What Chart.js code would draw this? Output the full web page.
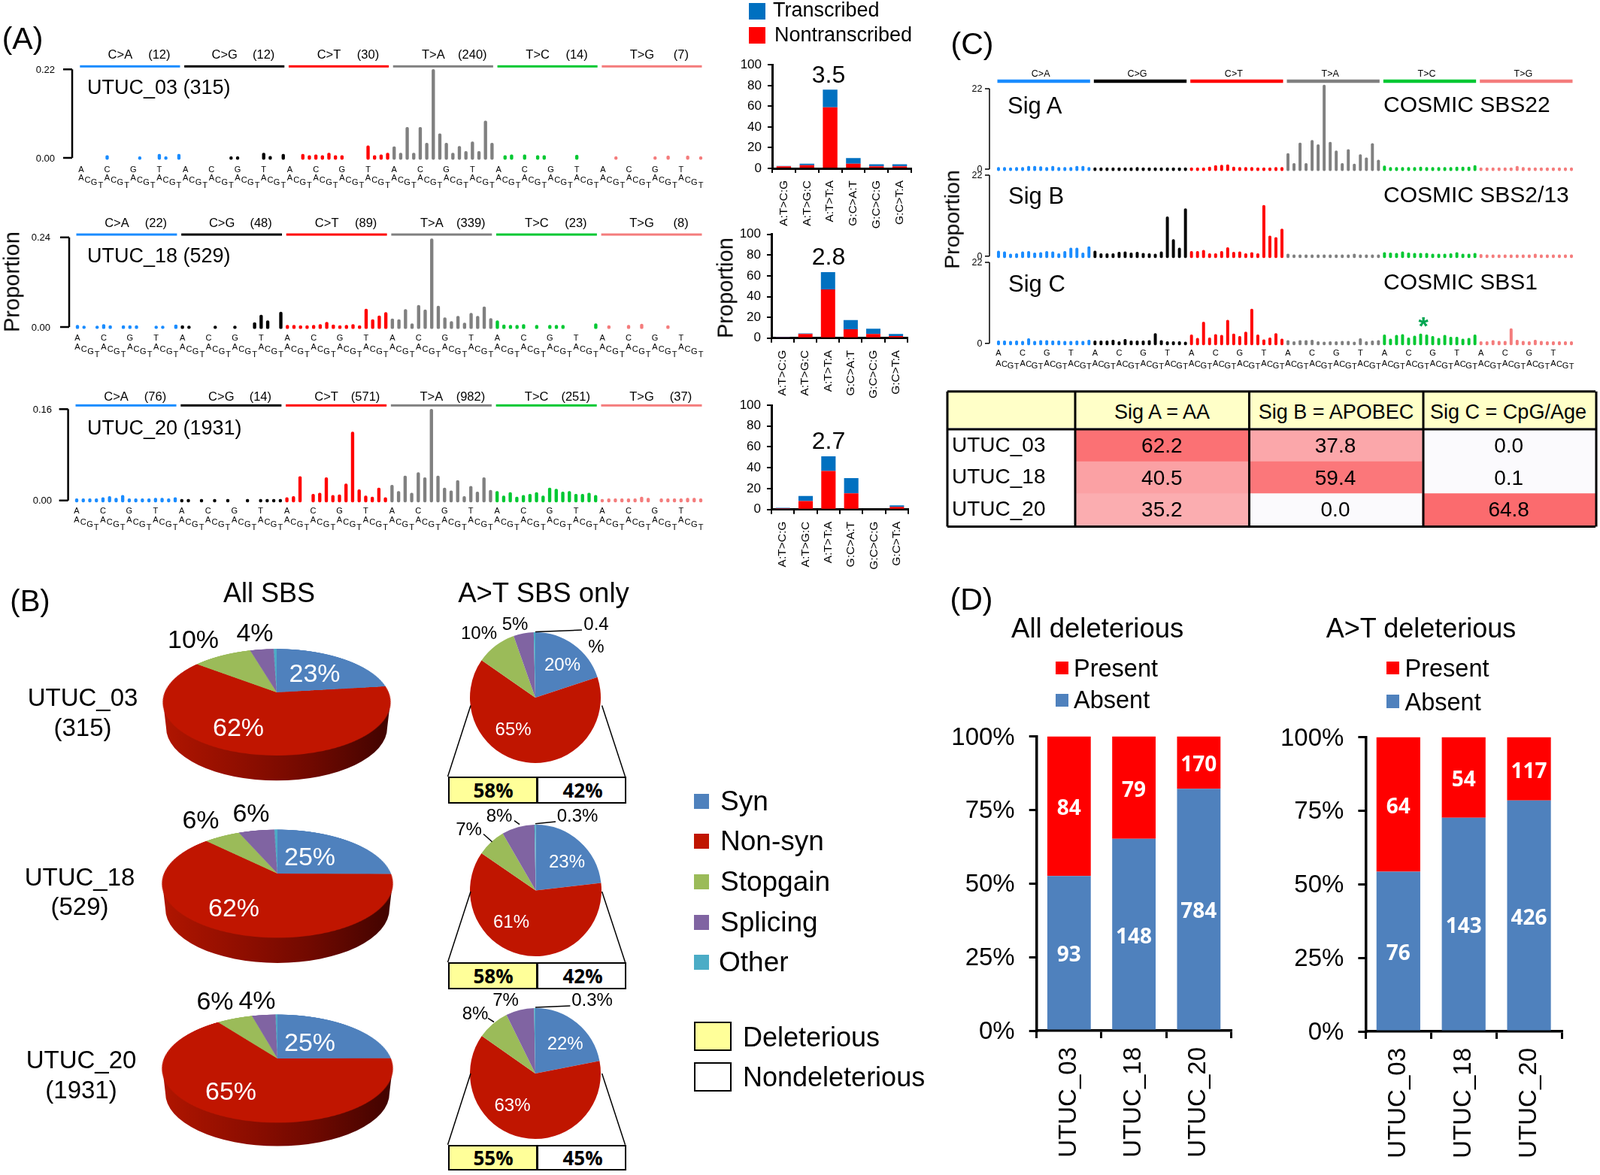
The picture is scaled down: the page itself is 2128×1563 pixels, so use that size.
<!DOCTYPE html>
<html>
<head>
<meta charset="utf-8">
<title>UTUC mutation signatures</title>
<script src="https://cdn.jsdelivr.net/npm/chart.js@4"></script>
<style>
  html, body { margin: 0; padding: 0; background: #fff; }
  #page { position: relative; width: 2128px; height: 1563px; overflow: hidden; background: #fff; font-family: "Liberation Sans", Arial, sans-serif; color: #000; }
  #page canvas { position: absolute; }
  .t { position: absolute; white-space: nowrap; line-height: 1; }
  .box { position: absolute; box-sizing: border-box; }
  svg { position: absolute; left: 0; top: 0; }
</style>
</head>
<body>
<div id="page"></div>
<script>
// --- data: panel A spectra (96 trinucleotide channels, 16 per substitution, null = no bar) ---
const substitutions = ['C>A', 'C>G', 'C>T', 'T>A', 'T>C', 'T>G'];
const substitutionColors = ['#1a8cff', '#000000', '#ff0000', '#808080', '#00c832', '#f47c7c'];
const bases = ['A', 'C', 'G', 'T'];

const utuc03Counts = [12, 12, 30, 240, 14, 7];
const utuc18Counts = [22, 48, 89, 339, 23, 8];
const utuc20Counts = [76, 14, 571, 982, 251, 37];

const utuc03Spectrum = [
  null, null, null, null, .006, null, null, null, null, .003, null, null, .009, .003, null, .009,
  null, null, null, null, null, null, null, .003, .003, null, null, null, .012, .004, null, .009,
  null, null, .009, .006, .008, .006, .012, .006, .006, null, null, null, .03, .006, .008, .012,
  .028, .012, .076, .012, .076, .037, .22, .06, .037, .012, .029, .016, .04, .016, .092, .037,
  null, .006, .008, null, .008, null, .006, .006, null, null, null, null, .007, null, null, null,
  null, null, .003, null, null, null, null, null, .003, null, .005, null, null, .005, null, .003
];
const utuc18Spectrum = [
  .005, .003, null, .003, .007, .004, null, .004, .004, .004, null, null, .003, .003, null, .006,
  .004, .003, null, null, null, .003, null, null, .003, null, null, .012, .032, .017, null, .04,
  .005, .005, .004, .004, .005, .007, .013, .006, .004, .005, .007, .004, .048, .02, .03, .039,
  .022, .02, .047, .009, .058, .046, .236, .056, .025, .015, .029, .011, .037, .029, .054, .023,
  .017, .006, .005, .005, .007, null, .005, null, .005, .005, .005, null, null, null, null, .009,
  null, .004, null, null, .005, null, .008, null, null, null, .004, null, null, null, null, null
];
const utuc20Spectrum = [
  .003, .003, .003, .003, .005, .007, .004, .009, .003, .003, .003, .003, .004, .004, .003, .005,
  .002, .002, null, .002, null, .002, null, .002, null, null, .002, null, .002, .002, .002, .002,
  .005, .007, .042, null, .011, .013, .04, .009, .01, .029, .12, .019, .008, .006, .022, .005,
  .027, .016, .043, .013, .049, .04, .16, .043, .022, .017, .035, .007, .025, .015, .04, .018,
  .016, .008, .014, .006, .009, .011, .014, .008, .022, .02, .015, .016, .011, .011, .013, .009,
  .002, .003, .003, .003, .003, .003, .006, .004, null, .003, .003, .003, .003, .004, .004, .003
];

// --- data: panel A transcribed / nontranscribed ---
const strandClasses = ['A:T>C:G', 'A:T>G:C', 'A:T>T:A', 'G:C>A:T', 'G:C>C:G', 'G:C>T:A'];
const utuc03Nontranscribed = [2, 3, 59, 4.5, 2, 2];
const utuc03Transcribed = [.4, 1.5, 17, 5.5, 2, 2];
const utuc18Nontranscribed = [1, 4, 47, 8.5, 4, 2];
const utuc18Transcribed = [.3, .5, 16.5, 9, 5, 2];
const utuc20Nontranscribed = [1, 8, 37, 15.5, 0, 2.5];
const utuc20Transcribed = [.5, 5, 14, 14.5, 0, 1.5];
const strandRatios = ['3.5', '2.8', '2.7'];

// --- data: panel C signatures ---
const sigASpectrum = [
  .5, .5, .4, .5, .5, .8, .8, .7, .5, .8, .5, .5, .5, .8, .8, .5,
  .4, .4, .4, .4, .4, .4, .4, .5, .4, .4, .4, .4, .4, .4, .4, .4,
  .4, .4, .4, .6, 1, 1.1, 1.2, .6, .5, .5, .5, .4, .4, .4, .5, .5,
  4.3, 1.6, 7.2, 1.6, 7.9, 6.7, 23, 7.4, 5, 1.6, 5.4, 1.4, 4, 3.1, 7, 2.5,
  .9, .5, .5, .5, .5, .5, .6, .5, .5, .5, .5, .5, .6, .6, .6, 1,
  .4, .4, .4, .4, .4, .4, .8, .5, .4, .4, .4, .4, .4, .4, .4, .4
];
const sigBSpectrum = [
  1.4, 1.2, .6, .7, 1.2, 1.3, .9, 1, 1.3, 1.2, .7, 1.3, 2.2, 2.2, .9, 2.6,
  1.4, .7, .7, .7, 1.1, 1.2, .9, 1.1, .8, .7, .6, 1.2, 10.7, 4.5, 2.2, 12.9,
  1.3, 1.3, 1.6, .7, .7, 1.3, 2.3, 1.1, 1.2, .7, 1, .7, 13.8, 5.5, 5.1, 7.4,
  .6, .4, .4, .4, .4, .4, .4, .4, .4, .4, .4, .6, .4, .4, .4, .4,
  1, .9, .8, 1.2, .9, .8, .8, .8, .6, .6, .6, .7, 1, .6, .6, .8,
  .5, .4, .4, .4, .4, .4, .4, .4, .4, .6, .4, .4, .4, .4, .4, .4
];
const sigCSpectrum = [
  .7, .7, .6, .7, .6, 1.3, .6, .8, .8, .7, .7, .6, .6, .7, .6, .9,
  .7, .7, .7, .9, .5, 1.1, .7, .7, .7, .8, 2.7, .8, .5, .5, .5, .4,
  2.3, 1.4, 5.8, 1.5, 2.4, 2.2, 6.3, 2.6, 1.9, 3.1, 9.3, 2.3, 1, 1.5, 2.7, 1.2,
  .8, .5, .8, .8, .9, .5, .4, .5, .5, .6, .6, .4, 1.3, .5, .7, .8,
  2.3, 1.2, 2.2, 2.4, 1.5, 2, 2.6, 2.3, 1.9, 1.4, 2.2, 1.7, 1.7, 1.2, 1.4, 2.3,
  .5, .5, .8, .6, .6, 4, .9, .6, .5, .9, .6, .5, .5, .5, .5, .5
];
const tableSamples = ['UTUC_03', 'UTUC_18', 'UTUC_20'];
const tableHeaders = ['Sig A = AA', 'Sig B = APOBEC', 'Sig C = CpG/Age'];
const sigAShare = [62.2, 40.5, 35.2];
const sigBShare = [37.8, 59.4, 0.0];
const sigCShare = [0.0, 0.1, 64.8];

// --- data: panel B consequences ---
const consequences = ['Syn', 'Non-syn', 'Stopgain', 'Splicing', 'Other'];
const consequenceColors = ['#4f81bd', '#c01500', '#9bbb59', '#8064a2', '#4bacc6'];
const allSbs03 = [23, 62, 10, 4, .5];
const allSbs18 = [25, 62, 6, 6, .5];
const allSbs20 = [25, 65, 6, 4, .3];
const atSbs03 = [20, 65, 10, 5, .4];
const atSbs18 = [23, 61, 7, 8, .3];
const atSbs20 = [22, 63, 8, 7, .3];

// --- data: panel D deleterious genes ---
const samples = ['UTUC_03', 'UTUC_18', 'UTUC_20'];
const allAbsent = [93, 148, 784];
const allPresent = [84, 79, 170];
const atAbsent = [76, 143, 426];
const atPresent = [64, 54, 117];

const FONT = '"Liberation Sans", Arial, sans-serif';
const page = document.getElementById('page');
Chart.defaults.animation = false;
Chart.defaults.responsive = false;
Chart.defaults.color = '#000';
Chart.defaults.font.family = FONT;
Chart.defaults.plugins.legend.display = false;
Chart.defaults.plugins.tooltip.enabled = false;

// canvas around a plot box given in page pixels, with room for axes and labels
function plotCanvas(left, top, right, bottom, m) {
  const cx = Math.floor(left - m.l), cy = Math.floor(top - m.t);
  const w = Math.ceil(right + m.r - cx), h = Math.ceil(bottom + m.b - cy);
  const canvas = document.createElement('canvas');
  canvas.width = w;
  canvas.height = h;
  canvas.style.left = cx + 'px';
  canvas.style.top = cy + 'px';
  page.appendChild(canvas);
  return {
    canvas,
    leftWidth: left - cx,
    bottomHeight: h - (bottom - cy),
    padding: { left: 0, top: top - cy, right: w - (right - cx), bottom: h - (bottom - cy) }
  };
}

function label(str, x, y, size, o = {}) {
  const d = document.createElement('div');
  d.className = 't';
  d.textContent = str;
  d.style.left = x + 'px';
  d.style.top = y + 'px';
  d.style.fontSize = size + 'px';
  if (o.color) d.style.color = o.color;
  if (o.bold) d.style.fontWeight = 'bold';
  if (o.family) d.style.fontFamily = o.family;
  let tr = o.left ? 'translate(0,-50%)' : 'translate(-50%,-50%)';
  if (o.rot) tr += ' rotate(' + o.rot + 'deg)';
  d.style.transform = tr;
  page.appendChild(d);
}

function box(x, y, w, h, bg, border) {
  const d = document.createElement('div');
  d.className = 'box';
  d.style.cssText = `left:${x}px;top:${y}px;width:${w}px;height:${h}px;background:${bg};` + (border ? `border:${border};` : '');
  page.appendChild(d);
}

// 96 channel spectrum with header bars, bracket axis and trinucleotide labels
function spectrum(values, cfg) {
  const step = (cfg.x1 - cfg.x0) / 95;
  const pc = plotCanvas(cfg.x0 - step / 2, cfg.top, cfg.x1 + step / 2, cfg.zero, { l: 70, t: 42, r: 16, b: 50 });
  const channels = values.map((_, i) => substitutions[Math.floor(i / 16)] + ':' + i);
  const colors = values.map((_, i) => substitutionColors[Math.floor(i / 16)]);

  const decorate = {
    id: 'decorate',
    afterDraw(chart) {
      const { ctx, scales: { x, y } } = chart;
      const y0 = y.getPixelForValue(0), yMax = y.getPixelForValue(cfg.max);
      const ax = cfg.axisX - pc.canvas.offsetLeft;
      ctx.save();
      ctx.strokeStyle = '#000';
      ctx.lineWidth = cfg.axisWidth;
      ctx.beginPath();
      ctx.moveTo(ax, yMax); ctx.lineTo(ax, y0);
      ctx.moveTo(ax - cfg.tickLen, yMax); ctx.lineTo(ax, yMax);
      ctx.moveTo(ax - cfg.tickLen, y0); ctx.lineTo(ax, y0);
      ctx.stroke();
      ctx.fillStyle = '#000';
      ctx.textBaseline = 'middle';
      ctx.textAlign = 'center';
      substitutions.forEach((s, i) => {
        if (cfg.header) {
          const a = x.getPixelForValue(i * 16), b = x.getPixelForValue(i * 16 + 15);
          ctx.fillStyle = substitutionColors[i];
          ctx.fillRect(a - 1.5, yMax - cfg.header.gap - cfg.header.thick / 2, b - a + 3, cfg.header.thick);
          ctx.fillStyle = '#000';
          ctx.font = cfg.header.size + 'px ' + FONT;
          const mid = (a + b) / 2;
          if (cfg.counts) {
            ctx.fillText(s, mid - 13, yMax - cfg.header.textGap);
            ctx.fillText('(' + cfg.counts[i] + ')', mid + 39, yMax - cfg.header.textGap);
          } else {
            ctx.fillText(s, mid - 4, yMax - cfg.header.textGap);
          }
        }
        if (cfg.letters) {
          ctx.font = '11px ' + FONT;
          bases.forEach((b5, j) => {
            const start = i * 16 + j * 4;
            ctx.fillText(b5, x.getPixelForValue(start), y0 + cfg.letters[0]);
            bases.forEach((b3, k) => ctx.fillText(b3, x.getPixelForValue(start + k), y0 + cfg.letters[k + 1]));
          });
        }
      });
      ctx.restore();
    }
  };

  new Chart(pc.canvas, {
    type: 'bar',
    data: {
      labels: channels,
      datasets: [{
        data: values,
        backgroundColor: colors,
        base: -cfg.max * cfg.dip,
        barThickness: cfg.thick,
        borderRadius: 2,
        borderSkipped: false,
        clip: false
      }]
    },
    options: {
      layout: { padding: pc.padding },
      scales: {
        x: { display: false },
        y: {
          min: 0,
          max: cfg.max,
          afterFit: s => { s.width = pc.leftWidth; },
          afterBuildTicks: s => { s.ticks = [{ value: 0 }, { value: cfg.max }]; },
          grid: { display: false, drawTicks: false },
          border: { display: false },
          ticks: {
            font: { size: cfg.tickSize },
            labelOffset: 1,
            padding: cfg.x0 - step / 2 - cfg.labelRight,
            callback: v => v === 0 ? cfg.zeroLabel : cfg.maxLabel
          }
        }
      }
    },
    plugins: [decorate]
  });
}

// stacked columns with black L axes (panels A and D)
function stackedColumns(cfg) {
  const pc = plotCanvas(cfg.left, cfg.top, cfg.right, cfg.bottom, { l: cfg.ml, t: 40, r: 24, b: cfg.mb });
  const inside = {
    id: 'inside',
    afterDatasetsDraw(chart) {
      if (!cfg.inside) return;
      const { ctx } = chart;
      ctx.save();
      ctx.fillStyle = '#fff';
      ctx.font = 'bold 28px "Open Sans", sans-serif';
      ctx.textAlign = 'center';
      ctx.textBaseline = 'middle';
      chart.data.datasets.forEach((ds, d) => {
        chart.getDatasetMeta(d).data.forEach((el, i) => {
          ctx.fillText(cfg.inside[d][i], el.x, (el.y + el.base) / 2 + 4);
        });
      });
      ctx.restore();
    }
  };
  new Chart(pc.canvas, {
    type: 'bar',
    data: {
      labels: cfg.labels,
      datasets: cfg.series.map(s => ({
        data: s.data, backgroundColor: s.color, barPercentage: cfg.barPct, categoryPercentage: 1
      }))
    },
    options: {
      layout: { padding: { left: 0, top: pc.padding.top, right: pc.padding.right, bottom: 0 } },
      scales: {
        x: {
          stacked: true,
          afterFit: s => { s.height = pc.bottomHeight; },
          grid: { drawOnChartArea: false, offset: true, color: '#000', lineWidth: cfg.tickWidth, tickLength: cfg.tickLen },
          border: { color: '#000', width: cfg.axisWidth },
          ticks: { font: { size: cfg.xSize }, minRotation: 90, maxRotation: 90, autoSkip: false, padding: cfg.xPad }
        },
        y: {
          stacked: true,
          min: 0,
          max: 100,
          afterFit: s => { s.width = pc.leftWidth; },
          grid: { drawOnChartArea: false, color: '#000', lineWidth: cfg.tickWidth, tickLength: cfg.tickLen },
          border: { color: '#000', width: cfg.axisWidth },
          ticks: { font: { size: cfg.ySize }, stepSize: cfg.yStep, padding: cfg.yPad, labelOffset: cfg.yNudge, callback: cfg.yFormat }
        }
      }
    },
    plugins: [inside]
  });
}

function percentOf(part, other) {
  return part.map((v, i) => v / (v + other[i]) * 100);
}

// side wall of the tilted pies, painted under the chart
function pieWall(cx, top, bottom, depth, rx) {
  const ry = (bottom - top) / 2;
  const c = document.createElement('canvas');
  c.width = rx * 2 + 10;
  c.height = ry * 2 + depth + 10;
  c.style.left = (cx - rx - 5) + 'px';
  c.style.top = (top - 5) + 'px';
  page.appendChild(c);
  const g = c.getContext('2d');
  const mx = rx + 5, my = ry + 5;
  const grad = g.createLinearGradient(5, 0, rx * 2 + 5, 0);
  grad.addColorStop(0, '#b01500');
  grad.addColorStop(.4, '#8a0d00');
  grad.addColorStop(.65, '#700900');
  grad.addColorStop(1, '#400300');
  g.fillStyle = grad;
  g.beginPath();
  g.moveTo(mx - rx, my);
  g.lineTo(mx - rx + 4, my + depth);
  g.ellipse(mx, my + depth, rx - 4, ry, 0, Math.PI, 0, true);
  g.lineTo(mx + rx, my);
  g.closePath();
  g.fill();
}

function pie(values, cx, cy, radius, tilt) {
  const size = Math.ceil(radius * 2 + 6);
  const c = document.createElement('canvas');
  c.width = size;
  c.height = size;
  c.style.left = (cx - size / 2) + 'px';
  c.style.top = (cy - size / 2) + 'px';
  page.appendChild(c);
  new Chart(c, {
    type: 'pie',
    data: {
      labels: consequences,
      datasets: [{ data: values, backgroundColor: consequenceColors, borderWidth: 0 }]
    },
    options: { radius, devicePixelRatio: tilt ? 2 : 1 }
  });
  c.style.position = 'absolute';
  c.style.left = (cx - size / 2) + 'px';
  c.style.top = (cy - size / 2) + 'px';
  if (tilt) {
    c.style.transformOrigin = '50% 50%';
    c.style.transform = 'perspective(720px) rotateX(62.6deg)';
  }
}

// ---------- panel A ----------
const headerA = { gap: 4, thick: 3, size: 16.5, textGap: 19 };
const barStyleA = { thick: 3.7, dip: .018, axisWidth: 2.5, tickLen: 12, tickSize: 13 };
spectrum(utuc03Spectrum, { ...barStyleA, x0: 107.8, x1: 932, zero: 210, top: 92.3, axisX: 96, labelRight: 73, max: .22,
  zeroLabel: '0.00', maxLabel: '0.22', counts: utuc03Counts, header: headerA, letters: [16, 27, 30, 33, 37] });
spectrum(utuc18Spectrum, { ...barStyleA, x0: 103, x1: 932, zero: 435, top: 315.7, axisX: 92, labelRight: 67, max: .24,
  zeroLabel: '0.00', maxLabel: '0.24', counts: utuc18Counts, header: { ...headerA, gap: 3.7, textGap: 18 }, letters: [15, 27, 30, 33, 37] });
spectrum(utuc20Spectrum, { ...barStyleA, x0: 102, x1: 932, zero: 665.7, top: 544.3, axisX: 90.6, labelRight: 69, max: .16,
  zeroLabel: '0.00', maxLabel: '0.16', counts: utuc20Counts, header: { ...headerA, gap: 5, textGap: 16 }, letters: [14, 26, 29, 32, 36] });

const strandSeries = (red, blue) => [{ data: red, color: '#ff0000' }, { data: blue, color: '#0070c0' }];
const strandStyle = { labels: strandClasses, ml: 60, mb: 90, barPct: .63, tickWidth: 2, tickLen: 6, axisWidth: 3,
  xSize: 15.5, xPad: 10, ySize: 17, yStep: 20, yPad: 8, yNudge: 0 };
stackedColumns({ ...strandStyle, left: 1027, right: 1212, top: 86.3, bottom: 224, series: strandSeries(utuc03Nontranscribed, utuc03Transcribed) });
stackedColumns({ ...strandStyle, left: 1026, right: 1206.7, top: 311.7, bottom: 449.8, series: strandSeries(utuc18Nontranscribed, utuc18Transcribed) });
stackedColumns({ ...strandStyle, left: 1026, right: 1208, top: 539, bottom: 677.7, series: strandSeries(utuc20Nontranscribed, utuc20Transcribed) });

// ---------- panel C ----------
const barStyleC = { thick: 3.3, dip: .02, axisWidth: 1.5, tickLen: 6, tickSize: 12.5, x0: 1328, x1: 2090, axisX: 1316, labelRight: 1306.5, max: 22, zeroLabel: '0', maxLabel: '22' };
spectrum(sigASpectrum, { ...barStyleC, zero: 225, top: 118, header: { gap: 10, thick: 4.5, size: 12.5, textGap: 19 } });
spectrum(sigBSpectrum, { ...barStyleC, zero: 340.7, top: 233 });
spectrum(sigCSpectrum, { ...barStyleC, zero: 456.7, top: 349, letters: [13, 27, 28, 30, 31] });

// table cells, one floating bar per signature and sample
const heat = v => `rgb(251,${Math.round(250 - 2.2 * v)},${Math.round(253 - 2.2 * v)})`;
(function signatureTable() {
  const columns = [sigAShare, sigBShare, sigCShare];
  const pc = plotCanvas(1430, 571.7, 2122, 699, { l: 164, t: 20, r: 4, b: 20 });
  const cellText = {
    id: 'cellText',
    afterDatasetsDraw(chart) {
      const { ctx } = chart;
      ctx.save();
      ctx.fillStyle = '#000';
      ctx.font = '28px ' + FONT;
      ctx.textAlign = 'center';
      ctx.textBaseline = 'middle';
      columns.forEach((col, d) => {
        chart.getDatasetMeta(d).data.forEach((el, i) => {
          ctx.fillText(col[i].toFixed(1), (el.x + el.base) / 2, el.y + 1.5);
        });
      });
      ctx.restore();
    }
  };
  new Chart(pc.canvas, {
    type: 'bar',
    data: {
      labels: tableSamples,
      datasets: columns.map((col, c) => ({
        data: col.map(() => [c, c + 1]),
        backgroundColor: col.map(heat),
        grouped: false,
        barPercentage: 1,
        categoryPercentage: 1
      }))
    },
    options: {
      indexAxis: 'y',
      layout: { padding: { left: 0, top: pc.padding.top, right: pc.padding.right, bottom: pc.padding.bottom } },
      scales: {
        x: { display: false, min: 0, max: 3 },
        y: {
          afterFit: s => { s.width = pc.leftWidth; },
          grid: { display: false, drawTicks: false },
          border: { display: false },
          ticks: { font: { size: 28 }, crossAlign: 'far', padding: 0 }
        }
      }
    },
    plugins: [cellText]
  });
})();

// ---------- panel D ----------
const columnStyle = { labels: samples, ml: 125, mb: 190, barPct: .67, tickWidth: 3, tickLen: 10, axisWidth: 3.5,
  xSize: 33, xPad: 12, ySize: 33, yStep: 25, yPad: 19, yNudge: 2, yFormat: v => v + '%' };
stackedColumns({ ...columnStyle, left: 1378.7, right: 1637.5, top: 979.5, bottom: 1371,
  series: [{ data: percentOf(allAbsent, allPresent), color: '#4f81bd' }, { data: percentOf(allPresent, allAbsent), color: '#ff0000' }],
  inside: [allAbsent, allPresent] });
stackedColumns({ ...columnStyle, left: 1816.4, right: 2077, top: 980.5, bottom: 1372,
  series: [{ data: percentOf(atAbsent, atPresent), color: '#4f81bd' }, { data: percentOf(atPresent, atAbsent), color: '#ff0000' }],
  inside: [atAbsent, atPresent] });

// ---------- panel B ----------
pieWall(368, 863.6, 1003.9, 34, 151);
pieWall(369, 1103, 1247, 34, 153);
pieWall(369, 1350, 1490.6, 34, 153);
pie(allSbs03, 368, 920.7, 149, true);
pie(allSbs18, 369, 1162, 151, true);
pie(allSbs20, 369, 1408, 151, true);
pie(atSbs03, 712, 928, 87, false);
pie(atSbs18, 712, 1184, 87.5, false);
pie(atSbs20, 712, 1428, 87, false);

// deleterious boxes under the small pies
const delBoxes = [[1033, 1068.7, '58%', '42%'], [1280.4, 1315.6, '58%', '42%'], [1522.7, 1557.4, '55%', '45%']];
delBoxes.forEach(([t, b, del, non]) => {
  box(595.5, t, 119, b - t, '#ffff99', '2px solid #000');
  box(713.5, t, 119.5, b - t, '#fff', '2px solid #000');
  label(del, 656, (t + b) / 2, 26, { bold: true, family: '"Open Sans", sans-serif' });
  label(non, 775, (t + b) / 2, 26, { bold: true, family: '"Open Sans", sans-serif' });
});

// connector and leader lines, table frame
const lines = [
  [626, 938.6, 595.5, 1033], [800.6, 938.6, 831.5, 1033],
  [626, 1186, 595.5, 1280], [800.6, 1186, 831.5, 1280],
  [626, 1428, 595.5, 1522.7], [800.6, 1428, 831.5, 1522.7],
  [712, 840.6, 774, 838], [712, 1095.7, 739, 1093], [712, 1340, 758.4, 1338],
  [643, 1109.5, 654.5, 1119.7], [684, 1091.6, 691, 1096.7], [649, 1354.4, 657, 1359.5]
];
const tableLines = [
  [1260, 520.7, 2122, 520.7], [1260, 571, 2122, 571], [1260, 700.5, 2122, 700.5],
  [1260, 520.7, 1260, 700.5], [1430, 520.7, 1430, 700.5], [1661.5, 520.7, 1661.5, 700.5], [1893, 520.7, 1893, 700.5], [2123, 520.7, 2123, 700.5]
];
box(1260, 521, 863, 48, '#ffffc8');
tableHeaders.forEach((h, i) => label(h, [1545.5, 1777, 2006][i], 548, 27));
let svg = '<svg width="2128" height="1563" xmlns="http://www.w3.org/2000/svg">';
lines.forEach(l => { svg += `<line x1="${l[0]}" y1="${l[1]}" x2="${l[2]}" y2="${l[3]}" stroke="#000" stroke-width="1.5"/>`; });
tableLines.forEach(l => { svg += `<line x1="${l[0]}" y1="${l[1]}" x2="${l[2]}" y2="${l[3]}" stroke="#000" stroke-width="3"/>`; });
svg += '</svg>';
page.insertAdjacentHTML('beforeend', svg);

// ---------- text ----------
label('(A)', 30, 51, 41);
label('(B)', 40, 799, 40);
label('(C)', 1293, 58, 41);
label('(D)', 1292, 797, 41);

label('Proportion', 16, 375, 29, { rot: -90 });
label('Proportion', 965, 383, 29, { rot: -90 });
label('Proportion', 1266, 292, 28.5, { rot: -90 });

label('UTUC_03 (315)', 116, 116, 27, { left: true });
label('UTUC_18 (529)', 116, 340, 27, { left: true });
label('UTUC_20 (1931)', 116, 569, 27, { left: true });

box(996, 4, 22, 22, '#0070c0');
box(996, 36, 22, 22, '#ff0000');
label('Transcribed', 1028, 13, 27, { left: true });
label('Nontranscribed', 1030, 46, 27, { left: true });
label(strandRatios[0], 1102, 99, 32);
label(strandRatios[1], 1102, 341, 32);
label(strandRatios[2], 1102, 585.5, 32);

label('Sig A', 1340, 140, 31, { left: true });
label('Sig B', 1341, 260, 31, { left: true });
label('Sig C', 1341, 377, 31, { left: true });
label('COSMIC SBS22', 1840, 139, 30, { left: true });
label('COSMIC SBS2/13', 1840, 259, 30, { left: true });
label('COSMIC SBS1', 1840, 375, 30, { left: true });
label('*', 1893, 433, 34, { bold: true, color: '#00a651' });

label('All SBS', 358, 789, 36);
label('A>T SBS only', 723, 789, 36.5);
label('UTUC_03', 110, 927, 33);
label('(315)', 110, 966.6, 33);
label('UTUC_18', 106, 1165.6, 33);
label('(529)', 106, 1205, 33);
label('UTUC_20', 108, 1409, 33);
label('(1931)', 108, 1449, 33);

const bigPieLabels = [
  ['23%', 418.5, 895, '#fff'], ['62%', 317, 966.6, '#fff'], ['10%', 257, 850], ['4%', 339, 840.6],
  ['25%', 412, 1138.6, '#fff'], ['62%', 311, 1207, '#fff'], ['6%', 267, 1090], ['6%', 334, 1081],
  ['25%', 412, 1385.5, '#fff'], ['65%', 307, 1451, '#fff'], ['6%', 286, 1331], ['4%', 342, 1330]
];
bigPieLabels.forEach(p => label(p[0], p[1], p[2], 34, { color: p[3] }));
const smallPieLabels = [
  ['20%', 748, 883.5, '#fff'], ['65%', 682.6, 970, '#fff'], ['10%', 637, 841.6], ['5%', 685, 830.4], ['0.4', 793, 830], ['%', 793, 859.5],
  ['23%', 754, 1146, '#fff'], ['61%', 680, 1226, '#fff'], ['7%', 623.6, 1103], ['8%', 664, 1085], ['0.3%', 768, 1085],
  ['22%', 751.7, 1387.5, '#fff'], ['63%', 681.5, 1470, '#fff'], ['8%', 632, 1348], ['7%', 672.5, 1330], ['0.3%', 787.6, 1330]
];
smallPieLabels.forEach(p => label(p[0], p[1], p[2], 24, { color: p[3] }));

[1056, 1109, 1163, 1217, 1270].forEach((y, i) => {
  box(923, y, 20, 20, consequenceColors[i]);
  label(consequences[i], i === 4 ? 956 : 958, y + 9, 37, { left: true });
});
box(923, 1359, 50, 39, '#ffff99', '2.5px solid #000');
box(923, 1413, 50, 39, '#fff', '2.5px solid #000');
label('Deleterious', 988, 1380, 36, { left: true });
label('Nondeleterious', 988, 1433, 36, { left: true });

label('All deleterious', 1459.7, 835.7, 36.5);
label('A>T deleterious', 1890, 835.7, 36);
box(1403.6, 879.5, 17, 17.5, '#ff0000');
box(1403.6, 923, 17, 17, '#4f81bd');
label('Present', 1428, 888.5, 32.5, { left: true });
label('Absent', 1428, 930.7, 32.5, { left: true });
box(1844, 879.5, 17, 17.5, '#ff0000');
box(1844, 924, 17, 17.5, '#4f81bd');
label('Present', 1868.5, 888.5, 32.5, { left: true });
label('Absent', 1868.5, 934, 32.5, { left: true });
</script>
</body>
</html>
